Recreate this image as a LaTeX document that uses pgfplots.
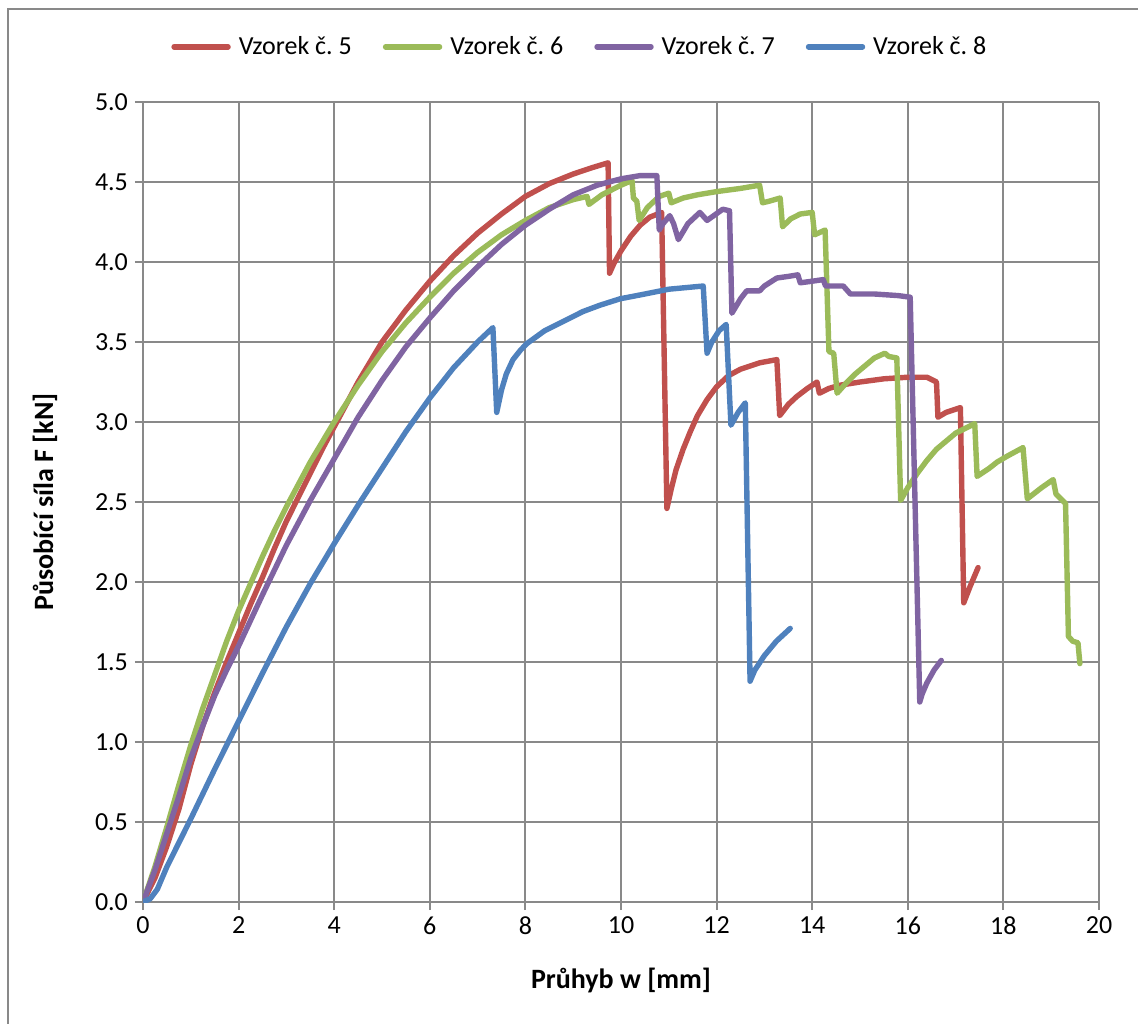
\documentclass[border=0pt]{standalone}
\usepackage{pgfplots}
\pgfplotsset{compat=1.18}
\usepackage{fontspec}
\setmainfont{Carlito}
\frenchspacing
\definecolor{cred}{HTML}{C0504D}
\definecolor{cgreen}{HTML}{9BBB59}
\definecolor{cpurple}{HTML}{8064A2}
\definecolor{cblue}{HTML}{4F81BD}
\definecolor{cgrid}{HTML}{898989}
\begin{document}
\begin{tikzpicture}
\useasboundingbox (-71.5pt,-60.5pt) rectangle (497.5pt,451pt);
\draw[cgrid, line width=0.8pt] (-67.5pt,-70pt) -- (-67.5pt,446.5pt) -- (510pt,446.5pt);
\begin{axis}[
  at={(0,0)}, anchor=south west,
  scale only axis, width=478pt, height=400pt,
  xmin=0, xmax=20, ymin=0, ymax=5,
  xtick={0,2,...,20}, ytick={0,0.5,...,5},
  axis lines=left, axis line style={-, cgrid, line width=1pt},
  tick align=outside, tick pos=left,
  major tick length=4pt,
  tick style={cgrid, line width=1pt},
  grid=major, grid style={cgrid, line width=1pt},
  ticklabel style={font=\fontsize{13}{15}\selectfont},
  /pgf/number format/assume math mode=true,
  yticklabel style={/pgf/number format/.cd, fixed, fixed zerofill, precision=1},
  xticklabel style={/pgf/number format/.cd, fixed, precision=0},
  xlabel={Průhyb w [mm]},
  ylabel={Působící síla F [kN]},
  every axis x label/.style={at={(axis description cs:0.5,-0.0975)}, anchor=center, font=\fontsize{14}{16}\selectfont\bfseries},
  every axis y label/.style={at={(axis description cs:-0.1025,0.5)}, anchor=center, rotate=90, font=\fontsize{14}{16}\selectfont\bfseries},
  legend columns=4,
  legend style={at={(axis description cs:0.458,1.069)}, anchor=center, draw=none, fill=none,
    font=\fontsize{13}{15}\selectfont, column sep=0pt,
    /tikz/every odd column/.append style={column sep=2pt},
    /tikz/every even column/.append style={column sep=13.5pt}},
  legend image code/.code={\draw[#1, line width=2.7pt, line cap=round] (0pt,0pt) -- (27pt,0pt);},
  every axis plot/.append style={line width=2.7pt, line join=round, line cap=round},
]
\addplot[cred] coordinates {
(0,0) (0.25,0.15) (0.5,0.35) (0.75,0.58) (1.0,0.86) (1.25,1.1) (1.5,1.31) (1.75,1.5)
(2.0,1.68) (2.25,1.86) (2.5,2.03) (2.75,2.21) (3.0,2.38) (3.25,2.53) (3.5,2.68) (3.75,2.83)
(4.0,2.97) (4.5,3.25) (5.0,3.5) (5.5,3.7) (6.0,3.88) (6.5,4.04) (7.0,4.18) (7.5,4.30)
(8.0,4.41) (8.5,4.49) (9.0,4.55) (9.4,4.59) (9.73,4.62)
(9.76,3.93) (9.85,3.99) (10.0,4.07) (10.2,4.16) (10.4,4.23) (10.6,4.28) (10.85,4.31)
(10.96,2.46) (11.05,2.58) (11.15,2.70) (11.3,2.83) (11.45,2.94) (11.6,3.04) (11.8,3.14)
(12.0,3.22) (12.25,3.29) (12.5,3.33) (12.9,3.37) (13.26,3.39)
(13.32,3.04) (13.5,3.11) (13.68,3.16) (13.9,3.21) (14.1,3.25) (14.15,3.18)
(14.35,3.21) (14.58,3.23) (15.0,3.25) (15.5,3.27) (16.0,3.28) (16.4,3.28) (16.6,3.25) (16.63,3.03)
(16.8,3.06) (17.1,3.09) (17.17,1.87) (17.3,1.97) (17.47,2.09)
};
\addlegendentry{Vzorek č. 5}
\addplot[cgreen] coordinates {
(0,0) (0.25,0.22) (0.5,0.47) (0.75,0.73) (1.0,0.98) (1.25,1.21) (1.5,1.42) (1.75,1.63)
(2.0,1.82) (2.25,1.99) (2.5,2.16) (2.75,2.32) (3.0,2.47) (3.5,2.75) (4.0,3.0) (4.5,3.23)
(5.0,3.44) (5.5,3.62) (6.0,3.78) (6.5,3.93) (7.0,4.06) (7.5,4.17) (8.0,4.26) (8.5,4.34)
(9.0,4.39) (9.29,4.41)
(9.33,4.36) (9.6,4.42) (10.0,4.48) (10.23,4.51) (10.26,4.40) (10.33,4.38) (10.38,4.26)
(10.55,4.34) (10.8,4.41) (11.0,4.43) (11.05,4.37) (11.3,4.40) (11.6,4.42) (12.0,4.44)
(12.5,4.46) (12.9,4.48) (12.96,4.37) (13.1,4.38) (13.33,4.40) (13.38,4.22) (13.55,4.27)
(13.75,4.30) (14.0,4.31) (14.05,4.17) (14.27,4.20) (14.35,3.44) (14.45,3.43) (14.52,3.18)
(14.7,3.24) (14.9,3.30) (15.1,3.35) (15.3,3.40) (15.52,3.43) (15.6,3.41) (15.77,3.40)
(15.85,2.51) (16.0,2.59) (16.2,2.68) (16.4,2.76) (16.6,2.83) (16.8,2.88) (17.0,2.93)
(17.2,2.96) (17.4,2.99) (17.45,2.66) (17.7,2.71)
(17.87,2.75) (18.1,2.79) (18.41,2.84) (18.5,2.52) (18.8,2.59) (19.04,2.64) (19.1,2.55)
(19.3,2.49) (19.36,1.66) (19.45,1.63) (19.56,1.62) (19.6,1.49)
};
\addlegendentry{Vzorek č. 6}
\addplot[cpurple] coordinates {
(0,0) (0.25,0.2) (0.5,0.43) (0.75,0.66) (1.0,0.9) (1.25,1.1) (1.5,1.29) (1.75,1.45)
(2.0,1.6) (2.5,1.92) (3.0,2.23) (3.5,2.51) (4.0,2.77) (4.5,3.03) (5.0,3.26) (5.5,3.47)
(6.0,3.65) (6.5,3.82) (7.0,3.97) (7.5,4.11) (8.0,4.23) (8.5,4.33) (9.0,4.42) (9.5,4.48)
(10.0,4.52) (10.4,4.54) (10.75,4.54)
(10.8,4.20) (10.88,4.24) (11.02,4.29) (11.1,4.24)
(11.2,4.14) (11.4,4.24) (11.65,4.31) (11.8,4.26) (12.13,4.33) (12.27,4.32) (12.32,3.68)
(12.5,3.77) (12.63,3.82) (12.9,3.82) (13.0,3.85) (13.26,3.90) (13.5,3.91) (13.7,3.92)
(13.75,3.87) (14.0,3.88) (14.23,3.89) (14.28,3.85) (14.65,3.85) (14.8,3.80) (15.3,3.80)
(15.8,3.79) (16.05,3.78) (16.25,1.25) (16.3,1.30) (16.4,1.37) (16.55,1.45) (16.7,1.51)
};
\addlegendentry{Vzorek č. 7}
\addplot[cblue] coordinates {
(0,0) (0.15,0.02) (0.3,0.08) (0.5,0.22) (0.75,0.37) (1.0,0.52) (1.5,0.83) (2.0,1.13)
(2.5,1.43) (3.0,1.72) (3.5,1.99) (4.0,2.24) (4.5,2.48) (5.0,2.71) (5.5,2.94) (6.0,3.15)
(6.5,3.34) (7.0,3.50) (7.32,3.59)
(7.4,3.06) (7.5,3.20) (7.6,3.30) (7.74,3.39) (7.9,3.45) (8.03,3.49) (8.4,3.57) (8.87,3.64)
(9.2,3.69) (9.56,3.73) (9.98,3.77) (10.5,3.80) (11.0,3.83) (11.72,3.85)
(11.8,3.43) (11.9,3.50) (12.05,3.57) (12.2,3.61) (12.3,2.98) (12.45,3.06) (12.6,3.12) (12.7,1.38)
(12.8,1.45) (13.0,1.54) (13.25,1.63) (13.54,1.71)
};
\addlegendentry{Vzorek č. 8}
\end{axis}
\end{tikzpicture}
\end{document}
